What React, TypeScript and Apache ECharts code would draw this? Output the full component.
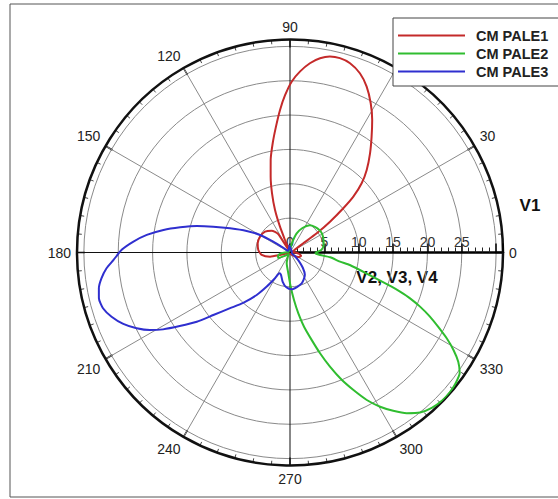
import React, { useEffect, useRef } from 'react';
import * as echarts from 'echarts';

const seriesNames = ['CM PALE1', 'CM PALE2', 'CM PALE3'];
const seriesColors = ['#c42a2a', '#30bd30', '#2f2fcf'];
const angleTickLabels = [0, 30, 60, 90, 120, 150, 180, 210, 240, 270, 300, 330];
const radiusTickLabels = [0, 5, 10, 15, 20, 25];

// [angle (deg), value]
const pale1: [number, number][] = [
  [0, 0.8], [10, 0.3], [25, 0.3], [32, 1.0], [34.7, 2.35], [35.7, 4.79], [37.6, 7.35],
  [39.7, 10.08], [41.4, 12.29], [44, 14.5], [47.1, 16.4], [51.1, 18.55], [54.8, 20.6],
  [58.2, 22.7], [61.6, 24.7], [65.2, 26.6], [68.7, 28.0], [72.4, 28.9], [75.6, 29.2],
  [78.5, 29.1], [81.2, 28.6], [84, 27.7], [86.8, 26.4], [89.4, 24.9], [91.8, 22.9],
  [94, 20.8], [96.4, 18.4], [99, 16.1], [101.8, 13.75], [104.3, 11.4], [106.9, 9.0],
  [109.4, 6.56], [111.2, 4.03], [111.8, 1.96], [114, 0.4], [119, 0.4], [121.5, 1.2],
  [122.2, 2.27], [122.6, 3.19], [130, 4.15], [140.2, 4.73], [152.2, 4.93], [164.1, 4.89],
  [175.5, 4.63], [185, 4.13], [191.9, 2.97], [194, 1.5], [197, 0.5], [210, 0.3], [240, 0.2],
  [300, 0.3], [320, 0.8], [332, 1.4], [342, 1.7], [352, 1.3], [360, 0.8],
];

const pale2: [number, number][] = [
  [0, 3.8], [5, 4.6], [12, 5.0], [20, 5.2], [30, 5.4], [37, 5.4], [46, 5.2], [54, 4.9],
  [63, 4.0], [71, 2.9], [80, 1.2], [90, 0.3], [120, 0.2], [170, 0.4], [185, 1.3], [195, 1.8],
  [205, 1.9], [215, 0.8], [230, 0.3], [245, 0.8], [253, 1.64], [265.3, 3.04], [271.2, 4.98],
  [274.8, 6.94], [277.8, 8.94], [280.7, 11.0], [283.9, 13.1], [286.6, 15.3], [289.3, 17.6],
  [292.1, 20.0], [294.7, 22.0], [297.5, 24.2], [300.3, 26.0], [303.1, 27.5], [306, 28.9],
  [309.1, 30.0], [312.4, 30.6], [315.8, 30.9], [318.9, 30.9], [321.8, 30.7], [324.6, 30.3],
  [327, 29.2], [329.2, 27.7], [331.3, 26.0], [333.4, 24.1], [335.4, 22.4], [337.4, 20.5],
  [339.1, 18.7], [340.4, 17.0], [341.4, 15.6], [344, 12.2], [348.2, 8.9], [349.6, 7.4],
  [353.2, 5.9], [355.2, 4.4], [358, 3.7], [360, 3.8],
];

const pale3: [number, number][] = [
  [0, 0.3], [40, 0.3], [80, 0.6], [95, 1.0], [110, 0.5], [140, 0.4], [145, 1.2], [147.1, 2.9],
  [149.7, 5.05], [153.6, 7.04], [158, 9.4], [161.4, 11.8], [164.1, 14.1], [167.1, 16.4],
  [169.9, 18.7], [173, 21.0], [176.1, 22.9], [179.1, 24.5], [182.4, 25.7], [184.9, 26.8],
  [187.8, 27.7], [190.6, 28.3], [193.5, 28.6], [196.6, 28.4], [199.8, 27.6], [203.2, 26.4],
  [206.3, 24.9], [209, 23.3], [211.2, 21.6], [213.7, 19.3], [216.6, 16.9], [219.2, 14.4],
  [222.9, 11.9], [227.1, 10.0], [231.9, 7.86], [235.7, 6.0], [239.8, 4.34], [243, 3.4],
  [248, 3.5], [256, 4.4], [264, 5.1], [272.6, 5.36], [282, 5.1], [290.8, 4.8], [297, 4.4],
  [303.7, 3.9], [310, 2.9], [316, 1.8], [323, 0.9], [335, 0.3], [360, 0.3],
];

const seriesData = [pale1, pale2, pale3];

export default function App() {
  const ref = useRef<HTMLDivElement>(null);
  useEffect(() => {
    document.body.style.margin = '0';
    const chart = echarts.init(ref.current!, null, { renderer: 'svg' });
    chart.setOption({
      animation: false,
      backgroundColor: '#ffffff',
      textStyle: { fontFamily: '"Liberation Sans", Arial, sans-serif' },
      polar: { center: [290, 252.5], radius: 213 },
      angleAxis: {
        type: 'value',
        min: 0,
        max: 360,
        interval: 30,
        startAngle: 0,
        clockwise: false,
        axisLine: { show: true, lineStyle: { color: '#111', width: 2.5 } },
        axisTick: { show: true, inside: true, length: 8, lineStyle: { color: '#111', width: 1.5 } },
        minorTick: { show: true, splitNumber: 6, length: 4, lineStyle: { color: '#444', width: 1 } },
        axisLabel: {
          margin: 6,
          fontSize: 14,
          color: '#222',
          formatter: (v: number) => (angleTickLabels.includes(v) ? String(v) : ''),
        },
        splitLine: { show: true, lineStyle: { color: ['#111', '#8a8a8a', '#8a8a8a'], width: 1 } },
      },
      radiusAxis: {
        type: 'value',
        min: 0,
        max: 31,
        interval: 5,
        axisLine: { show: true, lineStyle: { color: '#000', width: 2.5 } },
        axisTick: { show: true, inside: false, length: 9, lineStyle: { color: '#000', width: 1.5 } },
        minorTick: { show: true, splitNumber: 5, length: 5, lineStyle: { color: '#222', width: 1 } },
        axisLabel: {
          inside: true,
          margin: 4,
          fontSize: 14,
          color: '#333',
          formatter: (v: number) => (radiusTickLabels.includes(v) ? String(v) : ''),
        },
        splitLine: { show: true, lineStyle: { color: '#8a8a8a', width: 1 } },
      },
      legend: {
        left: 393,
        top: 18,
        orient: 'vertical',
        backgroundColor: '#fff',
        borderColor: '#444',
        borderWidth: 1,
        padding: [10, 12, 7, 5],
        itemGap: 3,
        itemWidth: 67,
        itemHeight: 2,
        icon: 'rect',
        textStyle: { fontSize: 14.5, fontWeight: 'bold', color: '#222', padding: [0, 0, 0, 6] },
        data: seriesNames,
      },
      graphic: [
        {
          type: 'rect',
          shape: { x: 10, y: 4, width: 600, height: 493 },
          style: { fill: 'none', stroke: '#555', lineWidth: 1 },
          z: -10,
          silent: true,
        },
        {
          type: 'text',
          x: 530,
          y: 205,
          style: { text: 'V1', fontSize: 17, fontWeight: 'bold', fill: '#111', align: 'center', verticalAlign: 'middle' },
        },
        {
          type: 'text',
          x: 397,
          y: 277,
          style: { text: 'V2, V3, V4', fontSize: 17, fontWeight: 'bold', fill: '#111', align: 'center', verticalAlign: 'middle' },
        },
      ],
      series: seriesData.map((d, i) => ({
        name: seriesNames[i],
        type: 'line',
        coordinateSystem: 'polar',
        smooth: 0.2,
        showSymbol: false,
        symbol: 'none',
        color: seriesColors[i],
        lineStyle: { color: seriesColors[i], width: 2, join: 'round' },
        data: d.map(([a, r]) => [r, a]),
        z: 5,
      })),
    });
    return () => chart.dispose();
  }, []);
  return <div ref={ref} style={{ position: 'absolute', left: 0, top: 0, width: 558, height: 499 }} />;
}
